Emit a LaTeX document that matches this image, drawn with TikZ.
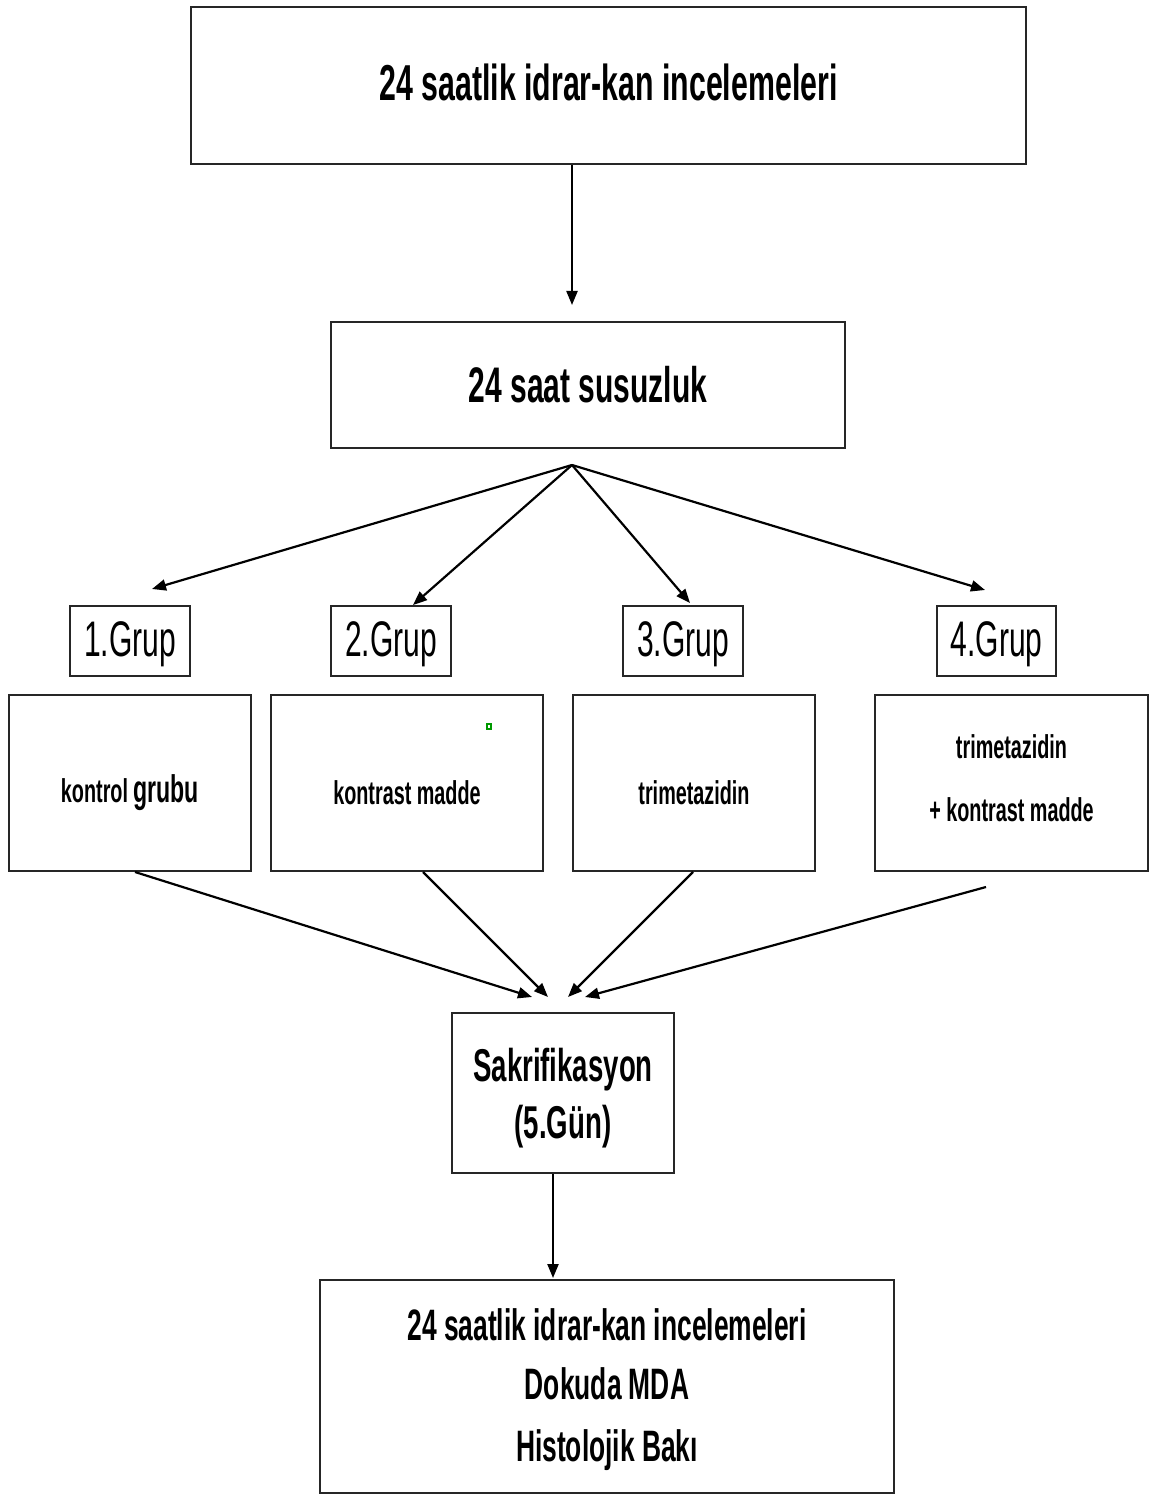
\documentclass[tikz,border=0pt]{standalone}
\usepackage{fontspec}
\setmainfont{Liberation Sans}[FakeStretch=0.6]
\usetikzlibrary{arrows.meta}
\tikzset{
  box/.style={draw=black!85, line width=2pt, fill=white, inner sep=0pt, align=center},
  link/.style={draw=black, line width=2.2pt, -{Triangle[length=14pt,width=11pt]}},
}
\newcommand{\fs}[1]{\fontsize{#1}{#1}\selectfont}
% move text vertically without changing its reported size
\newcommand{\vmove}[2]{\raisebox{#1}[\height][\depth]{#2}}
\begin{document}
\begin{tikzpicture}[x=1pt,y=-1pt]
\useasboundingbox (0,0) rectangle (1152,1495);

% main chain
\node[box, minimum width=835pt, minimum height=157pt] (top) at (608.5,85.5)
  {\vmove{3pt}{\fs{50.5}\bfseries 24 saatlik idrar-kan incelemeleri}};
\node[box, minimum width=514pt, minimum height=126pt] (thirst) at (588,385)
  {\fs{50}\bfseries 24 saat susuzluk};

% group labels
\node[box, minimum width=120pt, minimum height=70pt] (g1) at (130,641) {\vmove{-3pt}{\fs{50}1.Grup}};
\node[box, minimum width=120pt, minimum height=70pt] (g2) at (391,641) {\vmove{-3pt}{\fs{50}2.Grup}};
\node[box, minimum width=120pt, minimum height=70pt] (g3) at (683,641) {\vmove{-3pt}{\fs{50}3.Grup}};
\node[box, minimum width=119pt, minimum height=70pt] (g4) at (996.5,641) {\vmove{-3pt}{\fs{50}4.Grup}};

% group contents
\node[box, minimum width=242pt, minimum height=176pt] (c1) at (130,783)
  {\vmove{-10pt}{\fs{33}\bfseries kontrol {\fs{38.5}grubu}}};
\node[box, minimum width=272pt, minimum height=176pt] (c2) at (407,783)
  {\vmove{-10pt}{\fs{33}\bfseries kontrast madde}};
\node[box, minimum width=242pt, minimum height=176pt] (c3) at (694,783)
  {\vmove{-10pt}{\fs{33}\bfseries trimetazidin}};
\node[box, minimum width=273pt, minimum height=176pt] (c4) at (1011.5,783)
  {\vmove{3pt}{\begin{tabular}{@{}c@{}}\fs{33}\bfseries trimetazidin\\[36pt]\fs{33}\bfseries + kontrast madde\end{tabular}}};
\fill[green!60!black] (486,723) rectangle (492,730);
\fill[white] (488,725) rectangle (490,728);

% sacrifice and final analyses
\node[box, minimum width=222pt, minimum height=160pt] (sak) at (563,1093)
  {\vmove{-5pt}{\begin{tabular}{@{}c@{}}\fs{46}\bfseries Sakrifikasyon\\[20pt]\fs{46}\bfseries (5.Gün)\end{tabular}}};
\node[box, minimum width=574pt, minimum height=213pt] (final) at (607,1386.5)
  {\vmove{-3pt}{\begin{tabular}{@{}c@{}}\fs{44}\bfseries 24 saatlik idrar-kan incelemeleri\\[24pt]
   \fs{44}\bfseries Dokuda MDA\\[26pt]
   \fs{44}\bfseries Histolojik Bakı\end{tabular}}};

% connector ends
\coordinate (fan) at (572,465);
\coordinate (t1) at (152,589);
\coordinate (t2) at (413,605);
\coordinate (t3) at (690,603);
\coordinate (t4) at (985,590);
\coordinate (s1) at (532,997);
\coordinate (s2) at (548,997);
\coordinate (s3) at (568,997);
\coordinate (s4) at (585,997);
\coordinate (c4out) at (986,887);

\draw[link] (top.south -| fan) -- (572,305);
\draw[link] (fan) -- (t1);
\draw[link] (fan) -- (t2);
\draw[link] (fan) -- (t3);
\draw[link] (fan) -- (t4);

\draw[link] (c1.south -| 135,0) -- (s1);
\draw[link] (c2.south -| 423,0) -- (s2);
\draw[link] (c3.south -| 693,0) -- (s3);
\draw[link] (c4out) -- (s4);

\draw[link] (sak.south -| 553,0) -- (553,1278);
\end{tikzpicture}
\end{document}
